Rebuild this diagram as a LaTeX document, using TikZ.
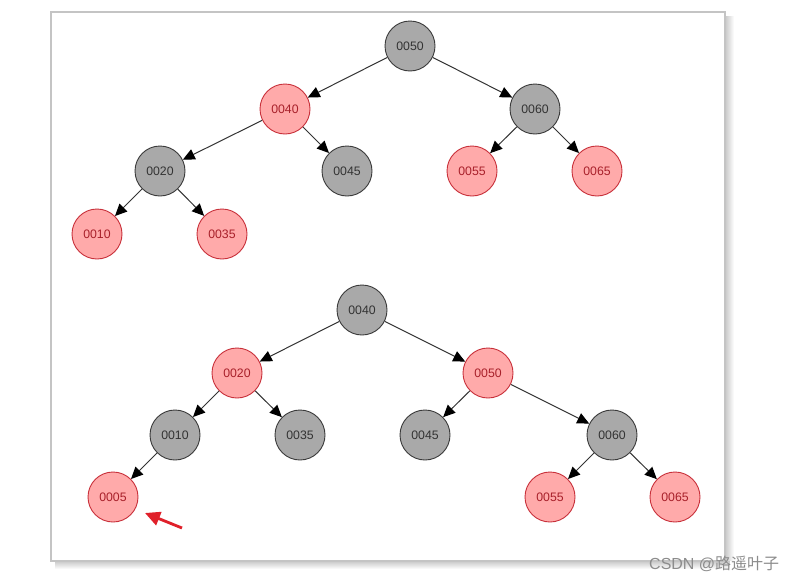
\documentclass[tikz,border=0pt]{standalone}
\usepackage{fontspec}
\setmainfont{Liberation Sans}
\newfontfamily\cjk{Noto Sans CJK SC}
\usetikzlibrary{arrows.meta}
\definecolor{gfill}{HTML}{A9A9A9}
\definecolor{gline}{HTML}{3A3A3A}
\definecolor{rfill}{HTML}{FFAAAA}
\definecolor{rline}{HTML}{C8303A}
\definecolor{rtext}{HTML}{A8202A}
\definecolor{frame}{HTML}{C4C4C4}
\definecolor{shade}{HTML}{C8C8C8}
\definecolor{redarrow}{HTML}{E0202A}
\tikzset{
  blk/.style={circle,draw=gline,fill=gfill,line width=0.9pt,minimum size=50pt,inner sep=0pt,text=black!80,font=\fontsize{12.3}{13}\selectfont},
  rdn/.style={circle,draw=rline,fill=rfill,line width=0.9pt,minimum size=50pt,inner sep=0pt,text=rtext,font=\fontsize{12.3}{13}\selectfont},
  edge/.style={draw=black!80,line width=1pt,-{Triangle[length=12pt,width=11pt,color=black]}},
}
\begin{document}
\begin{tikzpicture}[x=1pt,y=-1pt]
\useasboundingbox (0,0) rectangle (803,581);
\fill[white] (0,0) rectangle (803,581);
% frame shadow (fading strips)
\shade[left color=shade,right color=white] (725,16) rectangle (734,566);
\shade[top color=shade,bottom color=white] (55,561) rectangle (730,569);
\fill[white] (730,561) rectangle (740,575);
\filldraw[fill=white,draw=frame,line width=2pt] (51,12) rectangle (725,561);
% top tree
\node[blk] (a50) at (410,46) {0050};
\node[rdn] (a40) at (285,109) {0040};
\node[blk] (a60) at (535,109) {0060};
\node[blk] (a20) at (160,171) {0020};
\node[blk] (a45) at (347,171) {0045};
\node[rdn] (a55) at (472,171) {0055};
\node[rdn] (a65) at (597,171) {0065};
\node[rdn] (a10) at (97,234) {0010};
\node[rdn] (a35) at (222,234) {0035};
\draw[edge] (a50) -- (a40);
\draw[edge] (a50) -- (a60);
\draw[edge] (a40) -- (a20);
\draw[edge] (a40) -- (a45);
\draw[edge] (a60) -- (a55);
\draw[edge] (a60) -- (a65);
\draw[edge] (a20) -- (a10);
\draw[edge] (a20) -- (a35);
% bottom tree
\node[blk] (b40) at (362,310) {0040};
\node[rdn] (b20) at (237,373) {0020};
\node[rdn] (b50) at (488,373) {0050};
\node[blk] (b10) at (175,435) {0010};
\node[blk] (b35) at (300,435) {0035};
\node[blk] (b45) at (425,435) {0045};
\node[blk] (b60) at (612,435) {0060};
\node[rdn] (b05) at (113,497) {0005};
\node[rdn] (b55) at (550,497) {0055};
\node[rdn] (b65) at (675,497) {0065};
\draw[edge] (b40) -- (b20);
\draw[edge] (b40) -- (b50);
\draw[edge] (b20) -- (b10);
\draw[edge] (b20) -- (b35);
\draw[edge] (b50) -- (b45);
\draw[edge] (b50) -- (b60);
\draw[edge] (b10) -- (b05);
\draw[edge] (b60) -- (b55);
\draw[edge] (b60) -- (b65);
% red pointer
\coordinate (ptail) at (182,528);
\coordinate (phead) at (145,513);
\draw[redarrow,line width=2.8pt,-{Triangle[length=15pt,width=14pt]}] (ptail) -- (phead);
% watermark
\node[anchor=west,text=black!45,font=\fontsize{16}{18}\selectfont,inner sep=0pt] (wm) at (649,564) {CSDN @{\cjk 路遥叶子}};
\end{tikzpicture}
\end{document}
